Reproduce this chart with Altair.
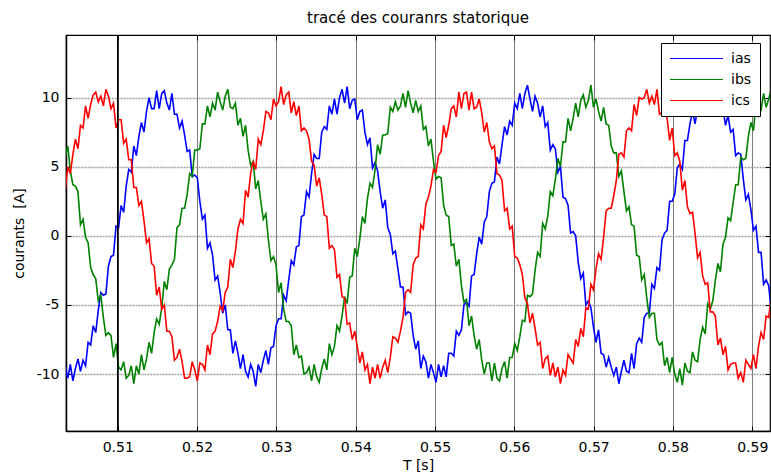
import altair as alt
import pandas as pd

T_START = 0.503376
T_STEP = 0.00032021
X_DOMAIN = [0.50347, 0.59224]
Y_DOMAIN = [-14.12, 14.53]

x_ticks = [0.51, 0.52, 0.53, 0.54, 0.55, 0.56, 0.57, 0.58, 0.59]
y_ticks = [-10, -5, 0, 5, 10]
series_names = ["ias", "ibs", "ics"]
series_colors = ["#0000ff", "#008000", "#ff0000"]
marker_times = [0.51]

ias = [
    -9.4, -10.3, -9.3, -10.5, -9.6, -8.9, -9.8, -9.0, -9.4, -7.7, -7.9, -6.5,
    -7.0, -5.4, -4.1, -4.3, -4.2, -2.2, -1.5, -1.4, 0.7, 0.6, 2.2, 1.7,
    3.6, 4.8, 4.6, 6.5, 5.8, 7.2, 8.2, 7.5, 9.0, 10.0, 9.2, 9.2,
    10.5, 9.2, 10.3, 10.5, 9.6, 9.1, 10.3, 8.8, 8.8, 7.8, 8.3, 7.3,
    6.1, 6.2, 4.3, 4.4, 4.2, 2.5, 1.2, 1.5, -0.9, -0.5, -1.4, -3.2,
    -2.9, -4.1, -5.6, -5.0, -6.8, -6.8, -8.5, -7.6, -8.5, -9.6, -8.6, -9.8,
    -10.2, -9.3, -9.8, -10.9, -9.3, -9.9, -9.0, -8.3, -9.3, -8.1, -8.0, -6.5,
    -6.0, -6.0, -4.3, -4.7, -3.2, -1.8, -2.1, -0.8, -0.7, 1.4, 1.5, 3.2,
    2.8, 4.5, 5.9, 5.6, 5.6, 7.5, 7.9, 7.7, 9.4, 8.8, 9.9, 8.8,
    10.0, 10.6, 9.6, 10.8, 9.2, 9.8, 9.9, 8.4, 9.0, 9.1, 7.5, 6.6,
    7.1, 4.9, 5.3, 4.7, 3.2, 2.0, 2.6, 0.6, 0.1, -1.3, -1.1, -2.4,
    -3.7, -3.7, -5.7, -5.5, -5.6, -7.2, -8.2, -7.6, -9.6, -8.7, -9.1, -10.3,
    -9.3, -9.9, -10.6, -9.3, -10.2, -9.4, -10.2, -8.5, -8.5, -8.7, -6.9, -7.2,
    -6.8, -5.0, -4.8, -5.1, -2.9, -2.8, -1.3, -0.1, -0.6, 1.0, 1.4, 3.2,
    3.8, 3.9, 5.7, 5.2, 6.6, 7.9, 7.3, 8.3, 8.0, 9.6, 9.2, 10.3,
    9.2, 10.3, 10.9, 9.9, 9.0, 10.1, 9.6, 8.6, 9.4, 7.9, 8.2, 6.2,
    6.6, 6.3, 4.6, 5.0, 2.8, 2.7, 2.2, 0.2, 0.3, 0.0, -1.9, -3.1,
    -2.7, -5.0, -4.7, -5.2, -6.6, -7.7, -6.8, -8.5, -8.6, -9.5, -8.8, -9.5,
    -10.1, -9.5, -10.7, -9.8, -9.0, -9.8, -9.9, -8.5, -9.6, -7.8, -7.4, -7.7,
    -5.9, -5.6, -5.6, -3.5, -3.8, -2.3, -2.5, -0.3, 0.2, 0.4, 2.5, 2.5,
    3.0, 4.9, 5.2, 4.8, 6.9, 6.9, 8.1, 9.0, 8.1, 9.2, 9.1, 10.3,
    10.2, 9.7, 10.7, 9.5, 10.0, 10.5, 9.0, 9.2, 8.0, 8.7, 7.5, 7.7,
    5.8, 6.0, 5.9, 4.1, 2.6, 3.0, 1.9, 0.4, 0.7, -1.2, -1.2, -3.5,
    -3.2, -3.6, -5.4,
]

ibs = [
    5.7, 6.5, 4.7, 3.7, 3.6, 3.2, 0.8, 1.2, -0.1, -0.5, -2.3, -2.8,
    -3.1, -4.7, -4.3, -5.9, -7.2, -7.0, -7.2, -8.8, -7.8, -9.5, -9.7, -9.1,
    -10.3, -10.1, -9.4, -10.7, -9.4, -10.0, -8.6, -9.7, -8.9, -7.7, -8.5, -7.0,
    -6.0, -6.4, -5.2, -3.3, -3.9, -2.4, -2.1, -1.7, 0.6, 0.8, 2.0, 2.0,
    3.0, 4.5, 4.3, 6.2, 6.2, 6.3, 8.1, 8.1, 9.4, 8.6, 9.6, 9.1,
    10.4, 9.7, 9.1, 10.1, 10.6, 9.3, 9.2, 9.6, 8.0, 8.5, 7.2, 8.0,
    6.2, 5.1, 5.4, 3.4, 4.0, 2.5, 1.2, 1.6, -0.3, -1.8, -1.5, -2.1,
    -4.1, -3.4, -5.3, -6.2, -6.2, -6.5, -8.6, -7.9, -8.8, -8.7, -10.0, -9.9,
    -9.5, -10.5, -9.3, -10.2, -10.6, -9.6, -8.9, -9.7, -7.8, -8.6, -8.0, -6.5,
    -6.9, -5.8, -4.4, -4.9, -3.0, -2.9, -0.9, -1.5, -0.2, 1.4, 0.9, 2.7,
    3.8, 3.5, 4.8, 6.6, 5.9, 7.3, 7.3, 7.4, 9.3, 9.0, 9.7, 9.1,
    9.4, 10.3, 9.3, 10.5, 9.6, 8.9, 9.8, 9.0, 9.4, 7.7, 7.9, 6.5,
    7.0, 5.4, 4.1, 4.3, 4.2, 2.2, 1.5, 1.4, -0.7, -0.6, -2.2, -1.7,
    -3.6, -4.8, -4.6, -6.5, -5.8, -7.2, -8.2, -7.5, -9.0, -10.0, -9.2, -9.2,
    -10.5, -9.2, -10.3, -10.5, -9.6, -9.1, -10.3, -8.8, -8.8, -7.8, -8.3, -7.3,
    -6.1, -6.2, -4.3, -4.4, -4.2, -2.5, -1.2, -1.5, 0.9, 0.5, 1.4, 3.2,
    2.9, 4.1, 5.6, 5.0, 6.8, 6.8, 8.5, 7.6, 8.5, 9.6, 8.6, 9.8,
    10.2, 9.3, 9.8, 10.9, 9.3, 9.9, 9.0, 8.3, 9.3, 8.1, 8.0, 6.5,
    6.0, 6.0, 4.3, 4.7, 3.2, 1.8, 2.1, 0.8, 0.7, -1.4, -1.5, -3.2,
    -2.8, -4.5, -5.9, -5.6, -5.6, -7.5, -7.9, -7.7, -9.4, -8.8, -9.9, -8.8,
    -10.0, -10.6, -9.6, -10.8, -9.2, -9.8, -9.9, -8.4, -9.0, -9.1, -7.5, -6.6,
    -7.1, -4.9, -5.3, -4.7, -3.2, -2.0, -2.6, -0.6, -0.1, 1.3, 1.1, 2.4,
    3.7, 3.7, 5.7, 5.5, 5.6, 7.2, 8.2, 7.6, 9.6, 8.7, 9.1, 10.3,
    9.3, 9.9, 10.6,
]

ics = [
    3.3, 5.0, 4.5, 5.9, 7.0, 6.3, 8.0, 7.8, 9.4, 8.5, 9.5, 10.2,
    10.4, 9.7, 10.1, 9.4, 10.6, 10.1, 9.2, 9.6, 7.8, 8.4, 8.4, 6.7,
    7.0, 5.5, 5.5, 3.5, 3.5, 2.2, 2.5, 1.1, -0.5, -0.2, -2.0, -2.2,
    -4.3, -3.7, -5.3, -5.0, -6.9, -6.9, -7.3, -9.0, -8.8, -8.2, -9.1, -10.3,
    -10.3, -10.2, -9.1, -9.7, -10.5, -9.2, -9.3, -9.7, -7.9, -8.6, -7.1, -6.9,
    -6.2, -5.1, -5.4, -4.1, -3.7, -1.7, -2.3, -1.1, 0.5, 1.2, 0.9, 3.3,
    2.8, 4.5, 5.4, 4.8, 7.0, 6.6, 7.6, 9.0, 8.9, 8.4, 9.9, 9.4,
    9.7, 10.8, 9.5, 10.2, 10.4, 8.9, 9.7, 8.7, 9.4, 7.6, 7.8, 7.6,
    7.0, 5.4, 5.1, 3.6, 4.2, 3.0, 1.5, 1.4, -0.9, -0.7, -1.0, -3.0,
    -2.8, -4.4, -4.5, -6.4, -6.3, -7.5, -6.9, -8.0, -9.2, -8.4, -9.7, -9.3,
    -10.7, -9.5, -10.3, -9.3, -10.3, -9.5, -9.0, -9.9, -8.8, -7.3, -7.4, -7.7,
    -6.9, -5.9, -4.1, -3.9, -4.1, -2.1, -1.6, -1.5, 0.8, 0.5, 2.3, 2.8,
    3.6, 4.8, 4.6, 5.8, 6.1, 8.0, 7.1, 8.0, 9.2, 9.4, 8.6, 10.4,
    9.2, 10.3, 10.4, 9.1, 10.4, 9.2, 9.3, 9.9, 8.9, 7.5, 8.2, 6.8,
    6.3, 6.5, 4.5, 4.4, 4.0, 1.8, 2.0, 0.5, 0.7, -1.5, -1.6, -2.1,
    -2.8, -4.5, -4.9, -6.3, -5.6, -6.7, -7.9, -7.7, -9.6, -8.9, -8.7, -10.1,
    -9.2, -10.2, -9.5, -10.7, -9.7, -10.1, -8.6, -8.9, -9.2, -7.5, -8.0, -6.7,
    -7.3, -5.2, -5.3, -3.5, -3.9, -2.4, -1.3, -1.7, -0.1, 1.8, 2.0, 2.0,
    2.9, 4.0, 5.9, 6.0, 5.7, 7.6, 7.8, 7.6, 9.5, 8.7, 10.0, 9.9,
    10.0, 10.6, 9.6, 10.1, 9.5, 10.6, 8.8, 8.9, 9.2, 8.5, 6.9, 7.8,
    5.8, 6.0, 5.4, 3.3, 4.0, 2.1, 1.6, 1.7, 0.2, -1.6, -1.2, -2.9,
    -3.5, -3.4, -5.5, -5.5, -5.8, -7.9, -7.4, -8.6, -8.0, -9.7, -9.3, -9.2,
    -9.2, -10.3, -9.9, -10.6, -9.0, -9.3, -9.6, -8.6, -9.6, -8.0, -7.0, -7.5,
    -5.8, -5.9, -4.5,
]

FONT = "DejaVu Sans"

records = []
for name, values in zip(series_names, [ias, ibs, ics]):
    for i, v in enumerate(values):
        records.append({"t": T_START + i * T_STEP, "courant": v, "phase": name})
data = pd.DataFrame(records)

x_scale = alt.Scale(domain=X_DOMAIN, nice=False, zero=False)
y_scale = alt.Scale(domain=Y_DOMAIN, nice=False, zero=False)

lines = alt.Chart(data).mark_line(strokeWidth=1.6, clip=True).encode(
    x=alt.X(
        "t:Q", scale=x_scale,
        axis=alt.Axis(
            values=x_ticks, format=".2f", title="T [s]",
            grid=True, gridColor="#7a7a7a", gridWidth=1,
            ticks=False, tickSize=0, domain=True, domainColor="black", domainWidth=1.5,
            labelFont=FONT, labelFontSize=14, labelColor="black", labelPadding=9,
            labelOverlap=False, labelFlush=False,
            titleFont=FONT, titleFontSize=14, titleFontWeight="normal",
            titleColor="black", titlePadding=4,
        ),
    ),
    y=alt.Y(
        "courant:Q", scale=y_scale,
        axis=alt.Axis(
            values=y_ticks, labelExpr="'' + datum.value",
            title="courants\u00a0\u00a0[A]",
            grid=True, gridColor="#a0a0a0", gridWidth=1.5, gridDash=[2, 1],
            ticks=False, tickSize=0, domain=True, domainColor="black", domainWidth=1.5,
            labelFont=FONT, labelFontSize=14, labelColor="black", labelPadding=7,
            labelOverlap=False, labelFlush=False,
            titleFont=FONT, titleFontSize=14, titleFontWeight="normal",
            titleColor="black", titlePadding=10,
        ),
    ),
    color=alt.Color(
        "phase:N", title=None,
        scale=alt.Scale(domain=series_names, range=series_colors),
        legend=alt.Legend(
            orient="none", legendX=595, legendY=8,
            symbolType="stroke", symbolSize=2800, symbolStrokeWidth=1.2,
            labelFont=FONT, labelFontSize=14, labelColor="black", labelOffset=7,
            padding=8, rowPadding=6, clipHeight=15,
            fillColor="white", strokeColor="black",
        ),
    ),
)

marker = alt.Chart(pd.DataFrame({"t": marker_times})).mark_rule(
    color="black", strokeWidth=1.6
).encode(x=alt.X("t:Q", scale=x_scale, axis=None))

tick_df = pd.DataFrame({"t": marker_times * len(y_ticks), "courant": y_ticks})


def inner_ticks(x_orient, y_orient):
    return alt.Chart(tick_df).mark_point(opacity=0).encode(
        x=alt.X(
            "t:Q", scale=x_scale, title="",
            axis=alt.Axis(
                orient=x_orient, offset=-5, values=x_ticks, tickSize=5,
                tickColor="black", tickWidth=1, labels=False, domain=False, grid=False,
            ),
        ),
        y=alt.Y(
            "courant:Q", scale=y_scale, title="",
            axis=alt.Axis(
                orient=y_orient, offset=-5, values=y_ticks, tickSize=5,
                tickColor="black", tickWidth=1, labels=False, domain=False, grid=False,
            ),
        ),
    )


chart = alt.layer(
    lines, marker, inner_ticks("bottom", "left"), inner_ticks("top", "right")
).resolve_axis(x="independent", y="independent").properties(
    width=704,
    height=396,
    title=alt.Title(
        "tracé des couranrs statorique", font=FONT, fontSize=15,
        fontWeight="normal", color="black", offset=8,
    ),
    autosize=alt.AutoSizeParams(type="none"),
    padding={"left": 66, "top": 35, "right": 1, "bottom": 45},
).configure_view(stroke="black", strokeWidth=1.2)

chart.save("out.html", embed_options={"renderer": "svg", "actions": False})
